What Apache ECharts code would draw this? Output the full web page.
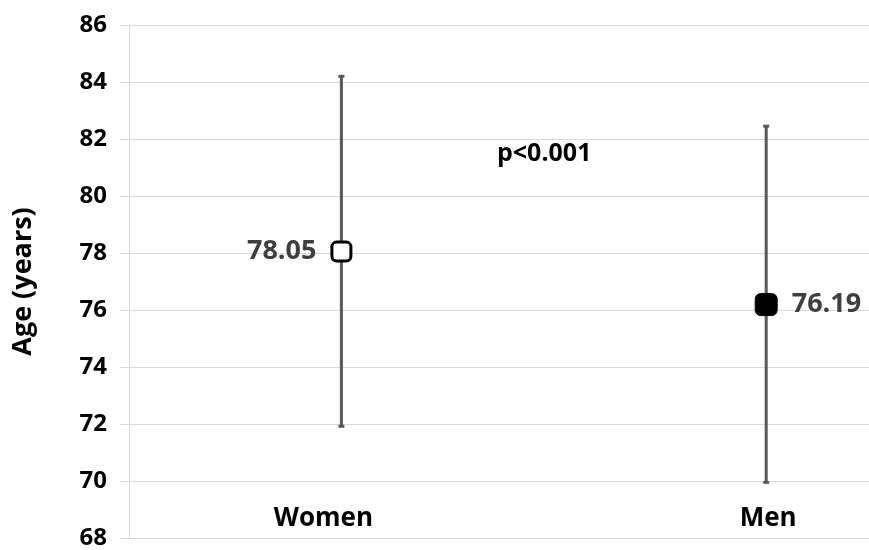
<!DOCTYPE html>
<html>
<head>
<meta charset="utf-8">
<script src="https://cdn.jsdelivr.net/npm/echarts@6/dist/echarts.min.js"></script>
<style>html,body{margin:0;padding:0;background:#fff}#c{width:869px;height:550px}</style>
</head>
<body>
<div id="c"></div>
<script>
const categories = ['Women', 'Men'];
const means = [78.05, 76.19];
const lower = [71.92, 69.95];
const upper = [84.2, 82.45];
const yMin = 68, yMax = 86, yStep = 2;
const pText = 'p<0.001';

const FONT = '"Open Sans", "Liberation Sans", sans-serif';
const chart = echarts.init(document.getElementById('c'), null, {renderer: 'canvas'});

const pos = categories.map((c, i) => i + 1);

chart.setOption({
  animation: false,
  grid: {left: 129, right: 0, top: 25, bottom: 7},
  xAxis: {
    type: 'value', min: 0.5, max: 2.242,
    splitLine: {show: false},
    axisLine: {show: false},
    axisTick: {show: false},
    axisLabel: {
      inside: true, margin: 6, customValues: pos,
      fontFamily: FONT, fontWeight: 'bold', fontSize: 26, color: '#000',
      formatter: v => {
        const i = Math.round(v) - 1;
        return i === 0 ? '{w|' + categories[i] + '}' : '{m|' + categories[i] + '}';
      },
      rich: {
        w: {fontFamily: FONT, fontWeight: 'bold', fontSize: 26, color: '#000', padding: [0, 36, 0, 0]},
        m: {fontFamily: FONT, fontWeight: 'bold', fontSize: 26, color: '#000', padding: [0, 0, 0, 4]}
      }
    }
  },
  yAxis: {
    type: 'value', min: yMin, max: yMax, interval: yStep,
    name: 'Age (years)', nameLocation: 'middle', nameGap: 92, nameRotate: 90,
    nameTextStyle: {fontFamily: FONT, fontWeight: 'bold', fontSize: 27, color: '#000'},
    axisLine: {show: true, lineStyle: {color: '#d9d9d9', width: 1}},
    axisTick: {show: true, length: 9, lineStyle: {color: '#d9d9d9'}},
    axisLabel: {fontFamily: FONT, fontWeight: 'bold', fontSize: 24, color: '#000', margin: 22},
    splitLine: {show: true, lineStyle: {color: '#d9d9d9', width: 1}}
  },
  series: [
    {
      type: 'custom',
      z: 1,
      data: pos.map((p, i) => [p, lower[i], upper[i]]),
      renderItem: (params, api) => {
        const x = api.coord([api.value(0), api.value(1)])[0];
        const yl = api.coord([api.value(0), api.value(1)])[1];
        const yu = api.coord([api.value(0), api.value(2)])[1];
        const st = {stroke: '#595959', lineWidth: 3};
        return {
          type: 'group',
          children: [
            {type: 'line', shape: {x1: x, y1: yl, x2: x, y2: yu}, style: st},
            {type: 'line', shape: {x1: x - 3, y1: yl, x2: x + 3, y2: yl}, style: st},
            {type: 'line', shape: {x1: x - 3, y1: yu, x2: x + 3, y2: yu}, style: st}
          ]
        };
      }
    },
    {
      type: 'scatter',
      z: 5,
      symbol: 'roundRect',
      data: pos.map((p, i) => ({
        value: [p, means[i]],
        symbolSize: i === 0 ? 19 : 22,
        itemStyle: i === 0
          ? {color: '#ffffff', borderColor: '#000', borderWidth: 3, opacity: 1}
          : {color: '#000', borderColor: '#000', borderWidth: 1, opacity: 1},
        label: {show: true, position: i === 0 ? 'left' : 'right', distance: 14}
      })),
      label: {
        show: true,
        fontFamily: FONT, fontWeight: 'bold', fontSize: 27, color: '#3f3f3f',
        formatter: p => p.value[1].toFixed(2)
      }
    }
  ],
  graphic: [{
    type: 'text', left: 497, top: 141,
    style: {text: pText, fontFamily: FONT, fontWeight: 'bold', fontSize: 25, fill: '#000'}
  }]
});
</script>
</body>
</html>
